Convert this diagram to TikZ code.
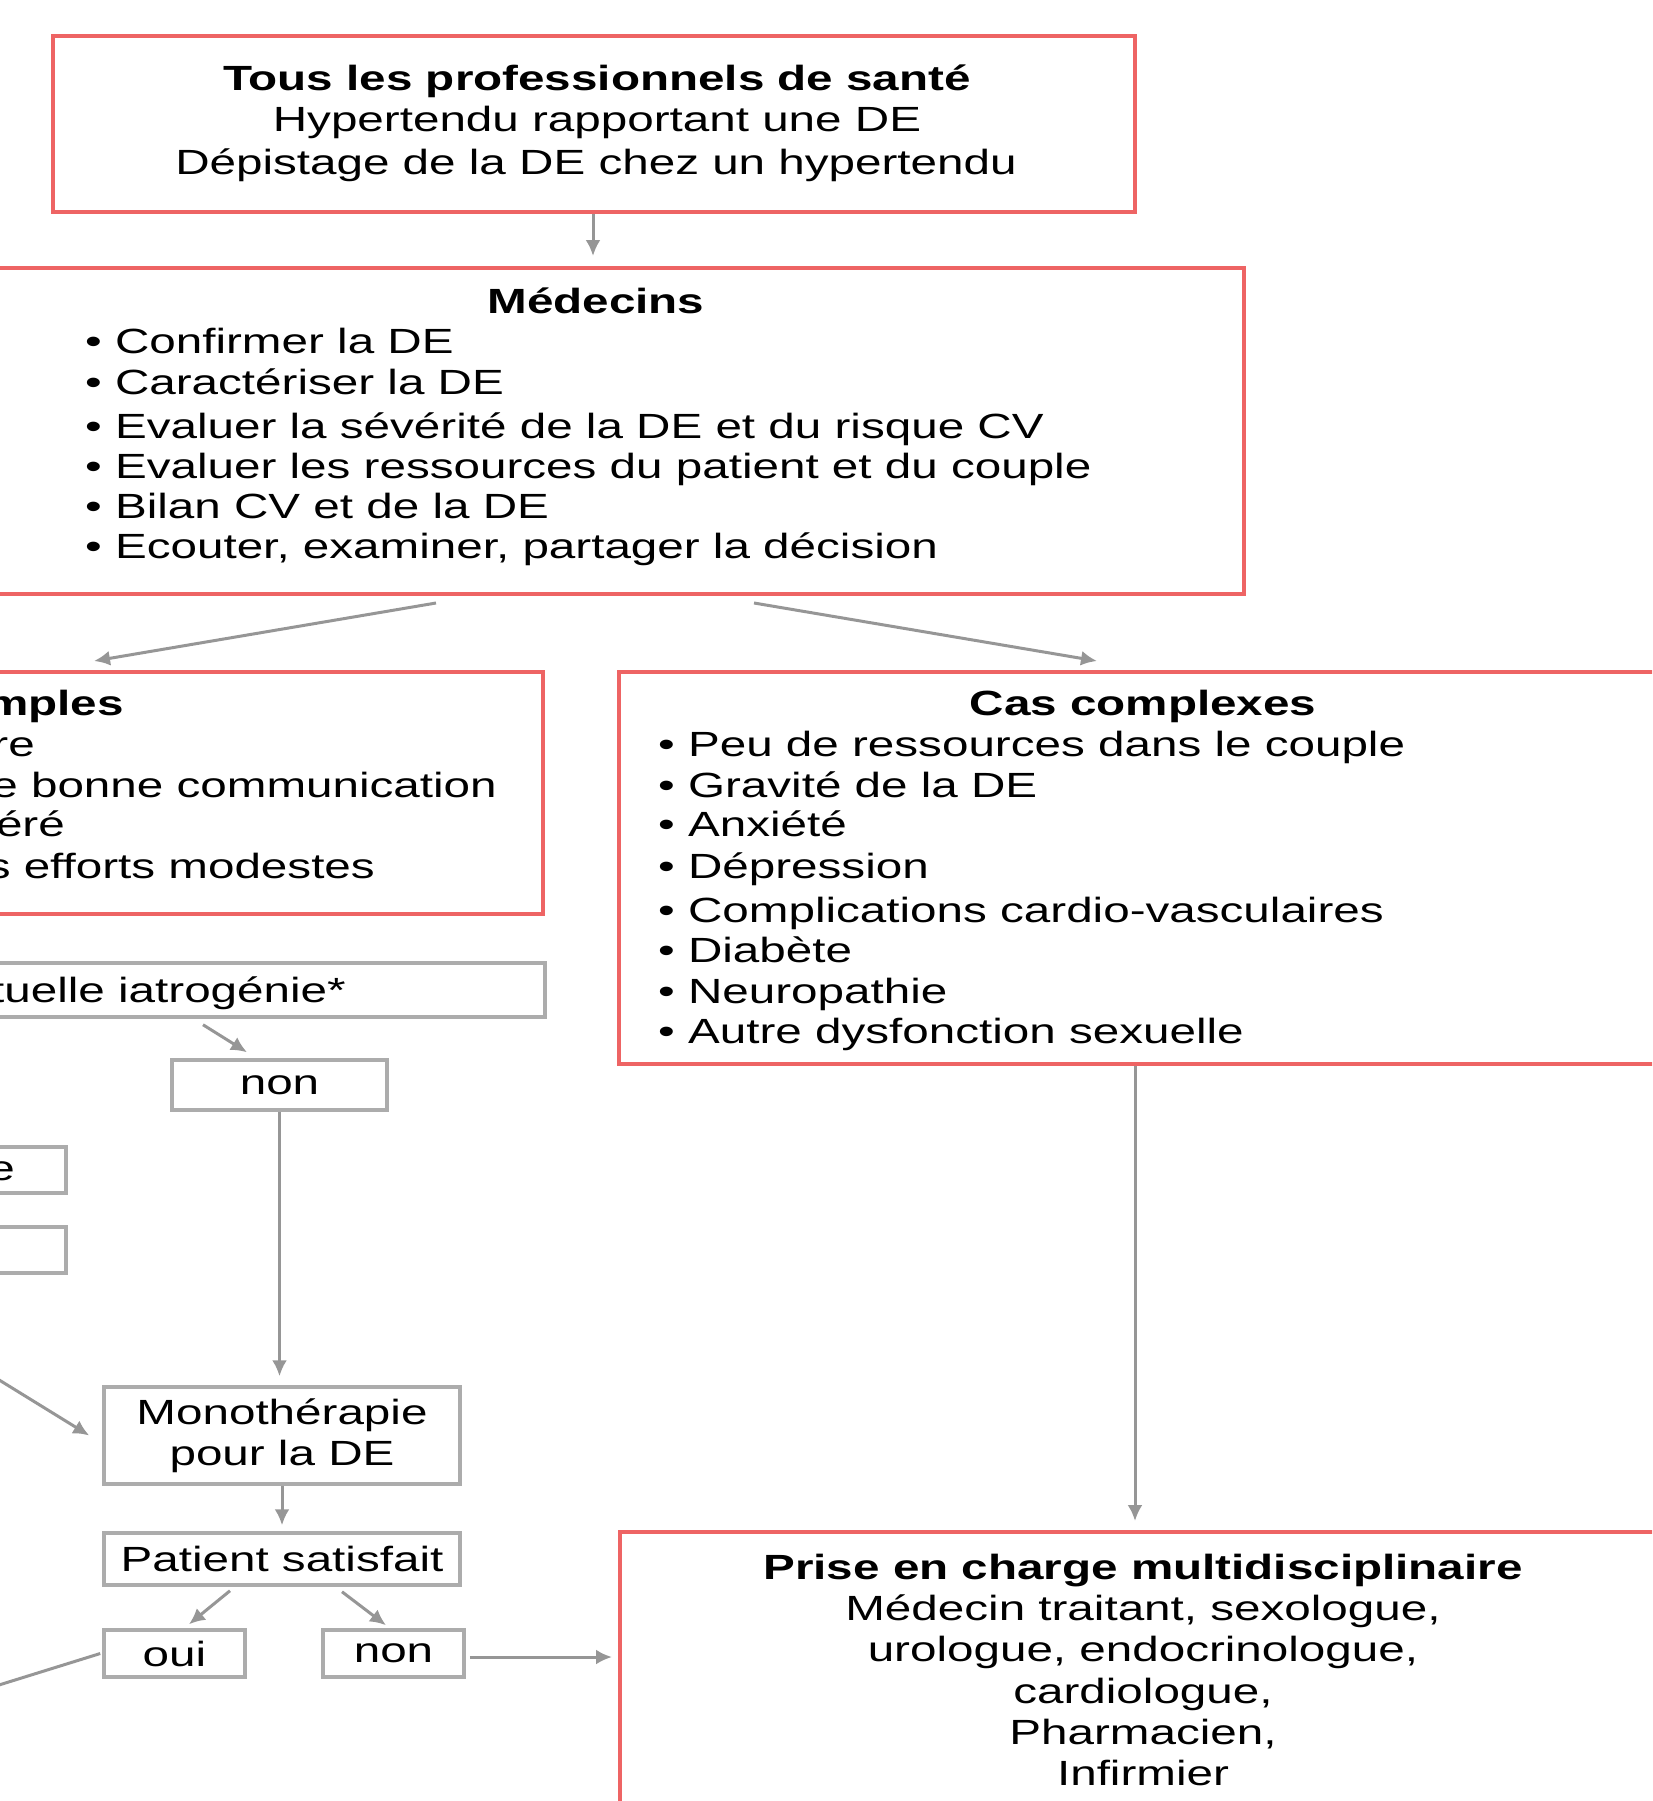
\documentclass[tikz,border=0pt]{standalone}
\usepackage{fontspec}
\setmainfont{Liberation Sans}[FakeStretch=1.36]
\usetikzlibrary{arrows.meta}
\definecolor{redb}{RGB}{238,100,100}
\definecolor{grayb}{RGB}{172,172,172}
\definecolor{grayc}{RGB}{150,150,150}
\begin{document}
\begin{tikzpicture}[x=1pt,y=-1pt,
  font=\fontsize{35}{41.2}\selectfont,
  rbox/.style={draw=redb, line width=4pt, rectangle, inner sep=0pt, align=center},
  gbox/.style={draw=grayb, line width=3.5pt, rectangle, inner sep=0pt, align=center},
  txt/.style={inner sep=0pt, anchor=base},
  ltxt/.style={inner sep=0pt, anchor=base west},
  rtxt/.style={inner sep=0pt, anchor=base east},
  arr/.style={draw=grayc, line width=3pt, -{Latex[length=16pt,width=15pt]}},
  ln/.style={draw=grayc, line width=3pt}]
\useasboundingbox (0,0) rectangle (1652,1801);
\clip (0,0) rectangle (1652,1801);

% top box
\node[rbox, minimum width=1082pt, minimum height=176pt] (top) at (594,124) {};
\node[txt] (t1) at (597,90) {\bfseries Tous les professionnels de santé};
\node[txt] (t2) at (597,131) {Hypertendu rapportant une DE};
\node[txt] (t3) at (596,174) {Dépistage de la DE chez un hypertendu};

% Medecins box
\node[rbox, minimum width=1296pt, minimum height=326pt] (med) at (596,431) {};
\node[txt] (medt) at (596,313) {\bfseries Médecins};
\foreach \y/\t [count=\i] in {353/Confirmer la DE, 394/Caractériser la DE,
  438/Evaluer la sévérité de la DE et du risque CV,
  478/Evaluer les ressources du patient et du couple,
  518/Bilan CV et de la DE, 558/{Ecouter, examiner, partager la décision}}
  \node[ltxt] (m\i) at (85,\y) {• \t};

% Cas simples (cut)
\node[rbox, minimum width=843pt, minimum height=242pt] (simp) at (121.5,793) {};
\node[rtxt] (s0) at (124,715) {\bfseries mples};
\node[rtxt] (s1) at (35,756) {re};
\node[rtxt] (s2) at (497,797) {e bonne communication};
\node[rtxt] (s3) at (65,836) {éré};
\node[rtxt] (s4) at (375,878) {s efforts modestes};

% Cas complexes
\node[rbox, minimum width=1048pt, minimum height=392pt] (cc) at (1143,868) {};
\node[txt] (cct) at (1143,715) {\bfseries Cas complexes};
\foreach \y/\t [count=\i] in {756/Peu de ressources dans le couple, 797/Gravité de la DE,
  836/Anxiété, 878/Dépression, 922/Complications cardio-vasculaires,
  962/Diabète, 1003/Neuropathie, 1043/Autre dysfonction sexuelle}
  \node[ltxt] (c\i) at (658,\y) {• \t};

% iatrogenie box (cut)
\node[gbox, minimum width=845pt, minimum height=54pt] (iat) at (122.5,990) {};
\node[rtxt] (iatt) at (346,1002) {tuelle iatrogénie*};

% non
\node[gbox, minimum width=215pt, minimum height=50pt] (non) at (279.5,1085) {non};

% cut boxes on left
\node[gbox, minimum width=366pt, minimum height=46pt] (eb) at (-117,1170) {};
\node[rtxt] (ebt) at (15,1180) {e};
\node[gbox, minimum width=366pt, minimum height=46pt] (emb) at (-117,1250) {};

% Monotherapie
\node[gbox, minimum width=356pt, minimum height=97pt] (mono) at (282,1435.5) {Monothérapie\\pour la DE};
\node[gbox, minimum width=356pt, minimum height=52pt] (pat) at (282,1559) {Patient satisfait};
\node[gbox, minimum width=141pt, minimum height=47pt] (oui) at (174.5,1653.5) {oui};
\node[gbox, minimum width=141pt, minimum height=47pt] (non2) at (393.5,1653.5) {non};

% Prise en charge
\node[rbox, minimum width=1046pt, minimum height=276pt] (prise) at (1143,1670)
  {\bfseries Prise en charge multidisciplinaire\\Médecin traitant, sexologue,\\urologue, endocrinologue,\\cardiologue,\\Pharmacien,\\Infirmier};

\coordinate (offl) at (-30,1362);
\coordinate (offl2) at (-30,1694);

% connectors
\draw[arr, shorten >=10pt] ([xshift=-1pt]top.south) -- ([xshift=-1pt]top.south |- med.north);
\draw[arr] ([xshift=-160pt,yshift=-7pt]med.south) -- ([xshift=-27.5pt,yshift=9pt]simp.north);
\draw[arr] ([xshift=158pt,yshift=-7pt]med.south) -- ([xshift=-46pt,yshift=9pt]cc.north);
\draw[arr] ([xshift=80.5pt,yshift=-6pt]iat.south) -- ([xshift=-32.5pt,yshift=6pt]non.north);
\draw[arr, shorten >=9pt] (non.south) -- (non.south |- mono.north);
\draw[arr] (offl) -- ([xshift=-13pt]mono.west);
\draw[arr, shorten >=6pt] (mono.south) -- (pat.north);
\draw[arr] ([xshift=-52pt,yshift=-4pt]pat.south) -- ([xshift=14.5pt,yshift=4pt]oui.north);
\draw[arr] ([xshift=60pt,yshift=-5pt]pat.south) -- ([xshift=-7.5pt,yshift=3pt]non2.north);
\draw[ln] ([xshift=-2pt]oui.west) -- (offl2);
\draw[arr] ([xshift=4pt,yshift=-3.5pt]non2.east) -- ([xshift=-6pt,yshift=13pt]prise.west);
\draw[arr, shorten >=9pt] ([xshift=-8pt]cc.south) -- ([xshift=-8pt]prise.north);
\end{tikzpicture}
\end{document}
